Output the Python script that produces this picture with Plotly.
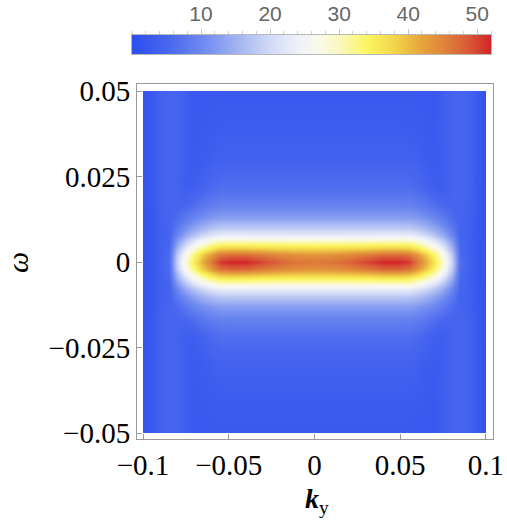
import plotly.graph_objects as go

# ---- data (quarter, k >= 0 and omega >= 0; the picture is mirror-symmetric) ----
K_POS = [0.0, 0.01, 0.02, 0.03, 0.04, 0.045, 0.05, 0.055, 0.06, 0.065,
         0.07, 0.075, 0.08, 0.085, 0.09, 0.095, 0.1]
W_POS = [0.0, 0.002, 0.004, 0.006, 0.008, 0.01, 0.013, 0.017, 0.022, 0.03, 0.04, 0.05]
Z_QUARTER = [
    [46.0, 46.5, 47.8, 49.8, 51.8, 52.0, 51.8, 50.6, 46.5, 41.5, 35.5, 29.0, 19.0, 6.0, 3.8, 1.8, 1.2],
    [43.6, 43.9, 44.8, 46.2, 47.5, 47.6, 47.5, 46.7, 43.5, 39.0, 33.4, 27.2, 17.8, 5.8, 3.7, 1.8, 1.2],
    [37.0, 37.1, 37.3, 37.6, 38.2, 38.3, 38.2, 37.8, 35.6, 32.1, 27.8, 22.6, 15.0, 5.3, 3.6, 1.8, 1.2],
    [29.6, 29.6, 29.7, 29.8, 30.0, 30.0, 30.0, 29.9, 28.4, 25.6, 22.0, 18.0, 12.1, 4.8, 3.6, 1.8, 1.2],
    [23.0, 23.0, 23.0, 23.0, 23.1, 23.1, 23.1, 23.0, 21.8, 19.7, 17.0, 14.0, 9.6, 4.5, 3.6, 1.9, 1.2],
    [18.0, 18.0, 18.0, 18.0, 18.0, 18.0, 18.0, 17.9, 17.0, 15.4, 13.3, 11.0, 7.7, 4.4, 3.7, 2.0, 1.2],
    [12.8, 12.8, 12.8, 12.8, 12.8, 12.8, 12.8, 12.7, 12.1, 11.0, 9.6, 8.0, 5.8, 4.5, 3.8, 2.1, 1.2],
    [8.8, 8.8, 8.8, 8.8, 8.8, 8.8, 8.8, 8.7, 8.2, 7.2, 6.0, 4.8, 4.6, 4.7, 4.0, 2.2, 1.2],
    [6.1, 6.1, 6.1, 6.1, 6.1, 6.1, 6.1, 6.0, 5.5, 4.4, 3.4, 3.2, 4.4, 4.8, 4.1, 2.3, 1.2],
    [4.1, 4.1, 4.1, 4.1, 4.1, 4.1, 4.1, 4.0, 3.6, 3.0, 2.6, 3.3, 4.5, 4.8, 4.2, 2.4, 1.2],
    [3.0, 3.0, 3.0, 3.0, 3.0, 3.0, 3.0, 2.9, 2.8, 2.5, 2.4, 3.4, 4.5, 4.8, 4.2, 2.4, 1.2],
    [2.4, 2.4, 2.4, 2.4, 2.4, 2.4, 2.4, 2.4, 2.3, 2.2, 2.3, 3.4, 4.5, 4.8, 4.2, 2.4, 1.2],
]
CB_LIMITS = [0, 52]
X_TICKS = [-0.1, -0.05, 0, 0.05, 0.1]
X_TICKTEXT = ["\u22120.1", "\u22120.05", "0", "0.05", "0.1"]
Y_TICKS = [-0.05, -0.025, 0, 0.025, 0.05]
Y_TICKTEXT = ["\u22120.05", "\u22120.025", "0", "0.025", "0.05"]
CB_TICKS = [10, 20, 30, 40, 50]
CB_MINOR_STEP = 2

# ---- mirror the quarter into the full grid ----
k_full = [-v for v in K_POS[::-1]] + K_POS[1:]
w_full = [-v for v in W_POS[::-1]] + W_POS[1:]
rows_half = [r[::-1] + r[1:] for r in Z_QUARTER]
z_full = rows_half[::-1] + rows_half[1:]

COLORSCALE = [
    [0.000, "#2D4EEE"], [0.096, "#4766EF"], [0.192, "#6D88F0"], [0.288, "#A0B2F2"],
    [0.385, "#D2DAF6"], [0.462, "#EFF1F9"], [0.519, "#F9F9EA"], [0.577, "#FAF8BE"],
    [0.654, "#FBF662"], [0.731, "#F2D44A"], [0.808, "#E6A23C"], [0.885, "#DE7A3A"],
    [0.942, "#D95436"], [1.000, "#D12328"],
]

W, H = 507, 520
def px(x): return x / W
def py(y): return 1 - y / H

fig = go.Figure()
fig.add_trace(go.Scatter(x=[None], y=[None], xaxis="x", yaxis="y",
                         showlegend=False, hoverinfo="skip"))
fig.add_trace(go.Heatmap(x=k_full, y=w_full, z=z_full, xaxis="x2", yaxis="y2",
                         colorscale=COLORSCALE, zmin=CB_LIMITS[0], zmax=CB_LIMITS[1],
                         zsmooth="best", showscale=False))
fig.add_trace(go.Heatmap(x=CB_LIMITS, y=[0, 1], z=[CB_LIMITS, CB_LIMITS],
                         xaxis="x3", yaxis="y3", colorscale=COLORSCALE,
                         zmin=CB_LIMITS[0], zmax=CB_LIMITS[1], zsmooth="best",
                         showscale=False, hoverinfo="skip"))

frame = "#9a9a9a"
tickfont = dict(family="Liberation Serif", size=29, color="black")
fig.update_layout(
    width=W, height=H, autosize=False,
    margin=dict(l=0, r=0, t=0, b=0, pad=0),
    paper_bgcolor="white", plot_bgcolor="white",
    showlegend=False,
    xaxis=dict(domain=[px(137), px(493)], range=[-0.1035, 0.1041], anchor="y",
               automargin=False,
               tickmode="array", tickvals=X_TICKS, ticktext=X_TICKTEXT,
               ticks="inside", ticklen=5, tickcolor=frame, tickwidth=1,
               showline=True, mirror=True, linecolor=frame, linewidth=1,
               showgrid=False, zeroline=False, tickfont=tickfont),
    yaxis=dict(domain=[py(439), py(84)], range=[-0.05175, 0.05205], anchor="x",
               automargin=False,
               tickmode="array", tickvals=Y_TICKS, ticktext=Y_TICKTEXT,
               ticks="inside", ticklen=5, tickcolor=frame, tickwidth=1,
               showline=True, mirror=True, linecolor=frame, linewidth=1,
               showgrid=False, zeroline=False, tickfont=tickfont),
    xaxis2=dict(domain=[px(143), px(486)], range=[-0.1, 0.1], anchor="y2",
                automargin=False, visible=False, showgrid=False, zeroline=False),
    yaxis2=dict(domain=[py(433), py(91)], range=[-0.05, 0.05], anchor="x2",
                automargin=False, visible=False, showgrid=False, zeroline=False),
    xaxis3=dict(domain=[px(132), px(491)], range=CB_LIMITS, anchor="y3", side="top",
                automargin=False,
                tickmode="array", tickvals=CB_TICKS,
                ticks="outside", ticklen=5, tickcolor="#c4c4c4", tickwidth=1,
                minor=dict(dtick=CB_MINOR_STEP, tick0=0, ticks="outside", ticklen=3,
                           tickcolor="#d0d0d0", tickwidth=1, showgrid=False),
                showline=True, mirror=True, linecolor="#b8b8b8", linewidth=1,
                showgrid=False, zeroline=False,
                tickfont=dict(family="Liberation Sans", size=21, color="#666666")),
    yaxis3=dict(domain=[py(54), py(35)], range=[0, 1], anchor="x3", automargin=False,
                showline=True, mirror=True, linecolor="#b8b8b8", linewidth=1,
                showticklabels=False, ticks="", showgrid=False, zeroline=False),
    annotations=[
        dict(text="<i>\u03c9</i>", x=px(17), y=py(263), xref="paper", yref="paper",
             xanchor="center", yanchor="middle",
             showarrow=False, textangle=-90,
             font=dict(family="Liberation Serif", size=30, color="black")),
        dict(text="<b><i>k</i></b><sub>y</sub>", x=px(317), y=py(500),
             xref="paper", yref="paper", xanchor="center", yanchor="middle",
             showarrow=False,
             font=dict(family="Liberation Serif", size=28, color="black")),
    ],
)

fig.write_html("out.html", config={"displayModeBar": False},
               post_script="document.body.style.margin='0';document.body.style.overflow='hidden';")
